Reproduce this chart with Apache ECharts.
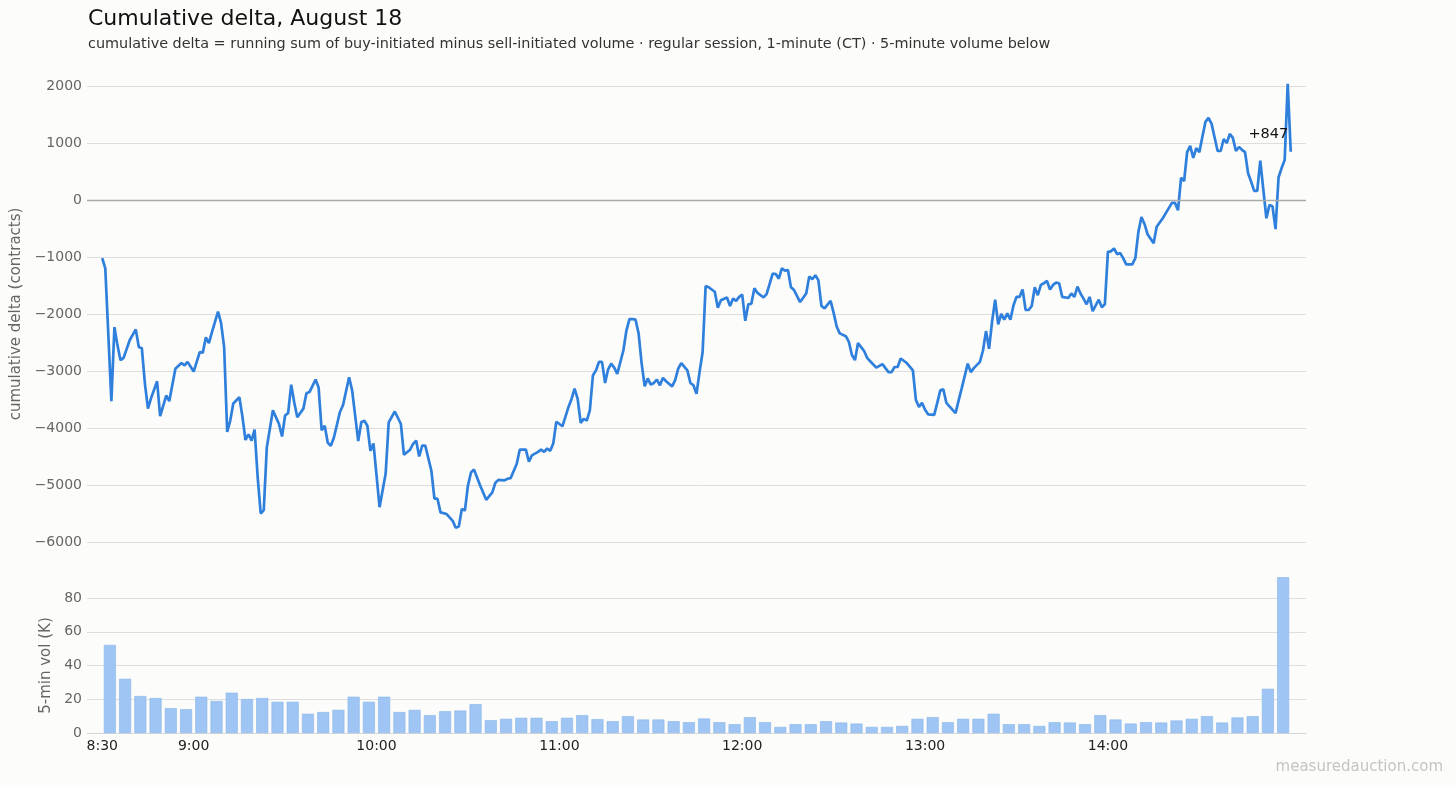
<!DOCTYPE html>
<html>
<head>
<meta charset="utf-8">
<title>Cumulative delta, August 18</title>
<script src="https://cdn.jsdelivr.net/npm/echarts@6/dist/echarts.min.js"></script>
<style>
  html, body { margin: 0; padding: 0; background: #fcfcfa; }
  #chart { width: 1456px; height: 787px; }
</style>
</head>
<body>
<div id="chart"></div>
<script>
// minutes after 8:30 CT, cumulative delta (contracts)
var deltaPoints = [
  [0,-1020],[1,-1200],[3,-3530],[4,-2230],[5,-2550],[6,-2810],[7,-2770],[9,-2460],[11,-2270],[12,-2580],
  [13,-2600],[14,-3220],[15,-3660],[16,-3480],[18,-3180],[19,-3790],[21,-3430],[22,-3530],[24,-2960],[26,-2860],
  [27,-2900],[28,-2840],[30,-3010],[32,-2670],[33,-2680],[34,-2410],[35,-2510],[36,-2320],[38,-1960],[39,-2160],
  [40,-2580],[41,-4070],[42,-3870],[43,-3570],[45,-3460],[46,-3800],[47,-4210],[48,-4110],[49,-4220],[50,-4030],
  [51,-4860],[52,-5500],[53,-5440],[54,-4340],[56,-3690],[58,-3930],[59,-4150],[60,-3780],[61,-3740],[62,-3240],
  [63,-3550],[64,-3810],[66,-3660],[67,-3390],[68,-3370],[70,-3150],[71,-3290],[72,-4040],[73,-3960],[74,-4260],
  [75,-4310],[76,-4170],[78,-3720],[79,-3600],[81,-3110],
  [82,-3340],[84,-4230],[85,-3900],[86,-3870],[87,-3960],[88,-4400],[89,-4270],[91,-5390],[93,-4800],[94,-3900],
  [96,-3710],[98,-3930],[99,-4470],[101,-4380],[102,-4280],[103,-4220],[104,-4500],[105,-4310],[106,-4310],[108,-4750],
  [109,-5240],[110,-5240],[111,-5480],[113,-5510],[115,-5630],[116,-5750],[117,-5730],[118,-5420],[119,-5450],[120,-5010],
  [121,-4780],[122,-4730],[124,-5010],[126,-5260],[128,-5130],[129,-4960],[130,-4910],[132,-4920],[133,-4890],[134,-4880],
  [136,-4630],[137,-4380],[139,-4380],[140,-4590],[141,-4480],[143,-4420],[144,-4380],[145,-4420],[146,-4360],[147,-4400],
  [148,-4270],[149,-3890],[151,-3970],[153,-3630],[154,-3490],[155,-3310],[156,-3490],[157,-3910],[158,-3840],[159,-3870],
  [160,-3690],[161,-3080],[162,-2990],[163,-2840],
  [164,-2840],[165,-3210],[166,-2970],[167,-2870],[168,-2940],[169,-3050],[171,-2640],[172,-2290],[173,-2090],[174,-2090],
  [175,-2100],[176,-2340],[177,-2870],[178,-3270],[179,-3130],[180,-3240],[181,-3210],[182,-3150],[183,-3250],[184,-3120],
  [185,-3180],[187,-3270],[188,-3160],[189,-2960],[190,-2860],[192,-2990],[193,-3210],[194,-3250],[195,-3400],[196,-3020],
  [197,-2670],[198,-1510],[199,-1530],[201,-1610],[202,-1890],[203,-1760],[205,-1710],[206,-1860],[207,-1730],[208,-1770],
  [209,-1700],[210,-1660],[211,-2120],[212,-1830],[213,-1820],[214,-1550],[215,-1630],[217,-1710],[218,-1650],[220,-1290],
  [221,-1300],[222,-1380],[223,-1200],[224,-1240],[225,-1230],[226,-1530],[227,-1580],[229,-1790],[231,-1640],[232,-1340],
  [233,-1390],[234,-1320],[235,-1410],[236,-1860],[237,-1900],[239,-1770],[240,-1980],[241,-2220],[242,-2340],[244,-2390],
  [245,-2490],[246,-2720],[247,-2810],[248,-2510],[250,-2650],[251,-2770],[252,-2830],[254,-2940],[256,-2880],[258,-3020],
  [259,-3020],[260,-2930],[261,-2930],[262,-2780],[264,-2860],[266,-2990],[267,-3510],[268,-3630],[269,-3560],[270,-3680],
  [271,-3760],
  [273,-3770],[274,-3560],[275,-3340],[276,-3320],[277,-3560],[278,-3620],[280,-3740],[281,-3520],[282,-3310],[284,-2870],
  [285,-3020],[286,-2950],[288,-2840],[289,-2640],[290,-2300],[291,-2610],[292,-2130],[293,-1750],[294,-2180],[295,-2000],
  [296,-2100],[297,-1990],[298,-2100],[299,-1850],[300,-1700],[301,-1700],[302,-1570],[303,-1930],[304,-1930],[305,-1860],
  [306,-1530],[307,-1670],[308,-1490],[309,-1460],[310,-1420],[311,-1570],[312,-1490],[313,-1450],[314,-1460],[315,-1700],
  [317,-1720],[318,-1640],[319,-1700],[320,-1520],[321,-1640],[322,-1730],[323,-1830],[324,-1700],[325,-1950],[326,-1850],
  [327,-1750],[328,-1880],[329,-1830],
  [330,-910],[331,-900],[332,-850],[333,-950],[334,-930],[335,-1020],[336,-1130],[338,-1130],[339,-1020],[340,-560],
  [341,-300],[342,-420],[343,-600],[344,-680],[345,-760],[346,-470],[348,-320],[349,-230],[351,-50],[352,-50],
  [353,-180],[354,390],[355,330],[356,840],[357,950],[358,740],[359,910],[360,840],[361,1110],[362,1370],
  [363,1440],[364,1340],[366,860],[367,860],[368,1070],[369,1000],[370,1160],[371,1090],[372,860],[373,930],
  [374,880],[375,840],[376,470],[377,320],[378,160],[379,160],[380,690],[381,180],[382,-320],[383,-90],
  [384,-110],[385,-510],[386,400],[387,560],[388,700],[389,2040],[390,847]
];

// 5-minute volume (thousands of contracts), 8:30 .. 14:55 bucket starts
var vol5 = [
  52.2,32.1,21.9,20.7,14.7,14.1,21.5,19.0,23.9,20.1,
  20.7,18.5,18.5,11.4,12.4,13.7,21.5,18.5,21.5,12.4,
  13.7,10.6,12.9,13.3,17.1,7.6,8.4,9.0,9.0,7.0,
  9.0,10.6,8.2,7.0,10.0,8.0,8.0,7.0,6.4,8.6,
  6.4,5.2,9.4,6.4,3.6,5.2,5.2,7.0,6.2,5.6,
  3.6,3.6,4.2,8.4,9.4,6.4,8.4,8.4,11.4,5.2,
  5.2,4.2,6.4,6.2,5.2,10.6,8.0,5.6,6.4,6.2,
  7.4,8.4,10.0,6.2,9.2,10.0,26.2,92.3
];

var timeTicks = [0, 30, 90, 150, 210, 270, 330];
var deltaTicks = { min: -6000, max: 2000, step: 1000 };
var volTicks = { min: 0, max: 80, step: 20 };

function clock(m) {
  var t = 510 + m;
  var h = Math.floor(t / 60), mm = t % 60;
  return h + ':' + (mm < 10 ? '0' + mm : mm);
}
function signed(v) {
  return (v >= 0 ? '+' : '\u2212') + Math.abs(v);
}

var lastPoint = deltaPoints[deltaPoints.length - 1];
var barData = vol5.map(function (v, i) { return [i * 5 + 2.5, v]; });

var chart = echarts.init(document.getElementById('chart'));
chart.setOption({
  backgroundColor: '#fcfcfa',
  animation: false,
  textStyle: { fontFamily: 'DejaVu Sans' },
  title: {
    text: 'Cumulative delta, August 18',
    subtext: 'cumulative delta = running sum of buy-initiated minus sell-initiated volume \u00b7 regular session, 1-minute (CT) \u00b7 5-minute volume below',
    left: 88, top: 8, padding: 0, itemGap: 7,
    textStyle: { fontSize: 22, fontWeight: 'normal', color: '#111' },
    subtextStyle: { fontSize: 14.4, color: '#333' }
  },
  graphic: [{
    type: 'text', right: 13, bottom: 12,
    style: { text: 'measuredauction.com', fill: '#c4c4c4', fontSize: 15, fontFamily: 'DejaVu Sans' }
  }],
  grid: [
    { left: 87, right: 150, top: 86, height: 456 },
    { left: 87, right: 150, top: 598, height: 135 }
  ],
  xAxis: [
    { gridIndex: 0, type: 'value', min: -5, max: 395, show: false },
    {
      gridIndex: 1, type: 'value', min: -5, max: 395,
      splitLine: { show: false },
      axisLine: { show: true, lineStyle: { color: '#d6d6d6' } },
      axisTick: { show: false },
      axisLabel: {
        customValues: timeTicks, formatter: clock,
        color: '#222', fontSize: 14, margin: 6
      }
    }
  ],
  yAxis: [
    {
      gridIndex: 0, type: 'value',
      min: deltaTicks.min, max: deltaTicks.max, interval: deltaTicks.step,
      name: 'cumulative delta (contracts)', nameLocation: 'middle', nameGap: 57,
      nameTextStyle: { color: '#666', fontSize: 15 },
      axisLine: { show: false }, axisTick: { show: false },
      axisLabel: {
        color: '#666', fontSize: 14, margin: 5,
        formatter: function (v) { return v < 0 ? '\u2212' + Math.abs(v) : String(v); }
      },
      splitLine: { lineStyle: { color: '#dedede' } }
    },
    {
      gridIndex: 1, type: 'value',
      min: volTicks.min, max: volTicks.max, interval: volTicks.step,
      name: '5-min vol (K)', nameLocation: 'middle', nameGap: 30,
      nameTextStyle: { color: '#666', fontSize: 15 },
      axisLine: { show: false }, axisTick: { show: false },
      axisLabel: { color: '#666', fontSize: 14, margin: 5 },
      splitLine: { lineStyle: { color: '#dedede' } }
    }
  ],
  series: [
    {
      type: 'line', xAxisIndex: 0, yAxisIndex: 0,
      data: deltaPoints, showSymbol: false, symbol: 'none', clip: false,
      lineStyle: { color: '#2f7fdc', width: 2.7 },
      itemStyle: { color: '#2f7fdc' },
      markLine: {
        silent: true, symbol: 'none', label: { show: false },
        lineStyle: { color: '#aaaaaa', width: 1.3, type: 'solid' },
        data: [{ yAxis: 0 }]
      },
      markPoint: {
        silent: true,
        data: [{
          coord: lastPoint, symbol: 'circle', symbolSize: 1,
          itemStyle: { color: 'rgba(0,0,0,0)' },
          label: {
            show: true, position: 'left', distance: 2, offset: [0, -17],
            formatter: signed(lastPoint[1]), color: '#111', fontSize: 14.5
          }
        }]
      },
      z: 3
    },
    {
      type: 'bar', xAxisIndex: 1, yAxisIndex: 1,
      data: barData, barWidth: 12, clip: false,
      itemStyle: { color: '#9ec5f3', borderColor: '#88b5ea', borderWidth: 0.6 }
    }
  ]
});
</script>
</body>
</html>
